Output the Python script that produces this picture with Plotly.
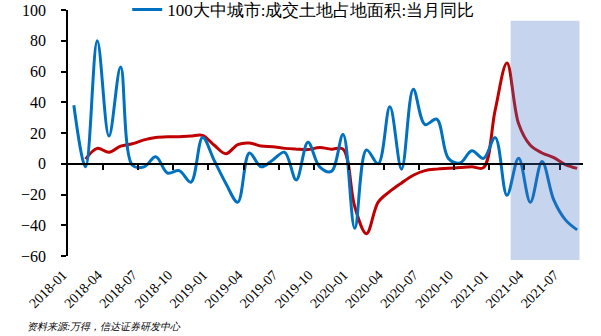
import plotly.graph_objects as go

# Monthly categories, 2018-01 .. 2021-08
months = [
    "2018-01", "2018-02", "2018-03", "2018-04", "2018-05", "2018-06",
    "2018-07", "2018-08", "2018-09", "2018-10", "2018-11", "2018-12",
    "2019-01", "2019-02", "2019-03", "2019-04", "2019-05", "2019-06",
    "2019-07", "2019-08", "2019-09", "2019-10", "2019-11", "2019-12",
    "2020-01", "2020-02", "2020-03", "2020-04", "2020-05", "2020-06",
    "2020-07", "2020-08", "2020-09", "2020-10", "2020-11", "2020-12",
    "2021-01", "2021-02", "2021-03", "2021-04", "2021-05", "2021-06",
    "2021-07", "2021-08",
]

# Land area transacted, 100 large & mid cities, YoY of the month (%)
land_area_yoy = [
    38, -2, 80, 18, 63, -1, -2, 4.5, -6, -4.5, -12, 17,
    2, -13, -25, 7, -2, 2.5, 7.5, -10.5, 14, -2, -5, 19,
    -42, 9, 0, 37, -3.5, 48.5, 25.5, 29, 3.5, 0.5, 8.5, 3.5,
    17, -20.5, 3.5, -25, 1.5, -23.5, -36.5, -43,
]

# Companion series (starts one month later)
land_area_cum = [
    None, 3, 10, 7.5, 11.5, 13, 15.5, 17, 17.5, 17.5, 18, 18.5,
    12, 6.5, 12.5, 13.5, 11.5, 11, 10, 9.5, 9.2, 10.5, 9.5, 9.5,
    -28, -45.5, -25, -18, -12.5, -7.5, -4.5, -3.5, -3, -2.5, -2, -2.5,
    35, 65.5, 26, 12, 7, 4, -0.5, -3,
]

tick_labels = months[::3]
y_ticks = list(range(-60, 101, 20))
Y_MIN, Y_MAX = -60, 100

legend_name = "100大中城市:成交土地占地面积:当月同比"
source_note = "资料来源:万得，信达证券研发中心"

BLUE = "#0070C0"
RED = "#C00000"
SERIF = "Liberation Serif"

fig = go.Figure()

fig.add_trace(go.Scatter(
    x=months, y=land_area_cum, mode="lines", showlegend=False,
    line=dict(color=RED, width=3, shape="spline", smoothing=1.0),
    connectgaps=False,
))
fig.add_trace(go.Scatter(
    x=months, y=land_area_yoy, mode="lines", name=legend_name,
    line=dict(color=BLUE, width=3, shape="spline", smoothing=1.0),
))

n = len(months)
zero_pos = (0 - Y_MIN) / (Y_MAX - Y_MIN)

# highlighted recent period
shade_x0, shade_x1 = 37.32, 43.2
shade_top, shade_bottom = 93, -62.6
fig.add_shape(
    type="rect", xref="x", yref="paper",
    x0=shade_x0, x1=shade_x1,
    y0=(shade_bottom - Y_MIN) / (Y_MAX - Y_MIN),
    y1=(shade_top - Y_MIN) / (Y_MAX - Y_MIN),
    fillcolor="rgba(68,114,196,0.30)", line=dict(width=0), layer="above",
)

fig.update_layout(
    width=601, height=336,
    margin=dict(l=68, r=18, t=10, b=80, autoexpand=False),
    paper_bgcolor="white", plot_bgcolor="white",
    font=dict(family=SERIF, size=15, color="#000000"),
    showlegend=True,
    legend=dict(
        orientation="h", x=0.115, y=1.0, xanchor="left", yanchor="middle",
        font=dict(family=SERIF, size=17), bgcolor="rgba(0,0,0,0)",
        itemwidth=30,
    ),
    xaxis=dict(
        type="category", categoryorder="array", categoryarray=months,
        range=[-0.5, n - 0.5],
        tickmode="array", tickvals=tick_labels, ticktext=tick_labels,
        tickangle=-45, ticks="", showline=False, showgrid=False,
        zeroline=False, tickfont=dict(family=SERIF, size=14),
        ticklabelshift=-11, ticklabelstandoff=7,
    ),
    xaxis2=dict(
        overlaying="x", anchor="free", position=zero_pos,
        type="linear", range=[-0.5, n - 0.5],
        tickmode="array", tickvals=[i - 0.5 for i in range(3, n - 1, 3)],
        showticklabels=False, ticks="outside", ticklen=5, tickwidth=1.5,
        tickcolor="#000000", showline=True, linecolor="#000000",
        linewidth=1.5, showgrid=False, zeroline=False,
    ),
    yaxis=dict(
        range=[Y_MIN, Y_MAX], tickmode="array", tickvals=y_ticks,
        ticks="outside", ticklen=5, tickwidth=1.5, tickcolor="#000000",
        showline=True, linecolor="#000000", linewidth=1.5,
        showgrid=False, zeroline=False,
        tickfont=dict(family=SERIF, size=16), ticklabelstandoff=12,
    ),
)

# invisible trace to bring the zero-line axis into the figure
fig.add_trace(go.Scatter(x=[], y=[], xaxis="x2", yaxis="y", showlegend=False))

fig.add_annotation(
    text=source_note, xref="paper", yref="paper", x=-0.083, y=-0.285,
    xanchor="left", yanchor="middle", showarrow=False,
    font=dict(family=SERIF, size=10, style="italic"),
)

fig.write_html("out.html")
